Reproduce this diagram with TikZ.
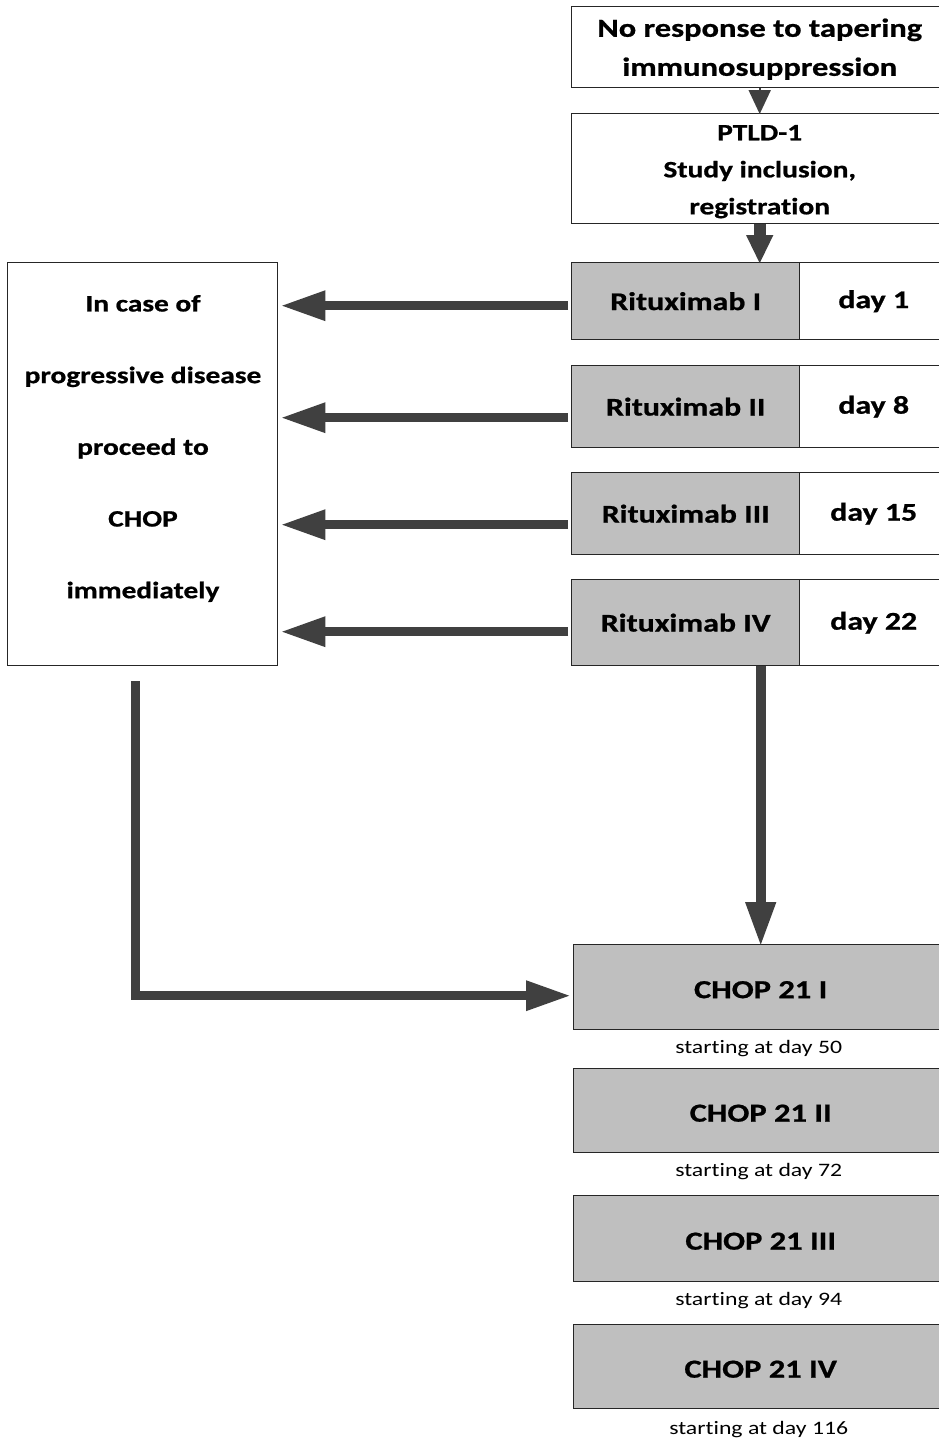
\documentclass[tikz,border=0pt]{standalone}
\usepackage{fontspec}
\setmainfont{Carlito}[FakeStretch=1.25,Ligatures={NoCommon},BoldFeatures={FakeBold=0.8}]
\usetikzlibrary{arrows.meta,calc}
\definecolor{boxgray}{HTML}{BFBFBF}
\definecolor{arr}{HTML}{404040}
\begin{document}
\begin{tikzpicture}[x=1pt,y=-1pt,
  box/.style={draw=black!85,line width=1.4pt,inner sep=0pt,anchor=north west,align=center},
  gbox/.style={box,fill=boxgray},
  txt/.style={inner sep=0pt,align=center},
  bigfont/.style={txt,font=\bfseries\fontsize{26}{39}\selectfont},
  midfont/.style={txt,font=\bfseries\fontsize{23.5}{37}\selectfont},
  rowfont/.style={txt,font=\bfseries\fontsize{25.5}{30}\selectfont},
  lab/.style={font=\fontsize{19}{22}\selectfont,inner sep=0pt},
  bigarrow/.style={draw=arr,line width=9pt,line join=miter,-{Triangle[length=45pt,width=28pt]}},
]
\useasboundingbox (0,0) rectangle (938,1438);
\fill[white] (0,0) rectangle (938,1438);

% top boxes
\node[box,minimum width=376pt,minimum height=81pt] (top) at (571,6) {};
\node[bigfont] (toptext) at ($(top.center)+(0,2)$) {No response to tapering\\immunosuppression};
\node[box,minimum width=376pt,minimum height=110pt] (ptld) at (571,113) {};
\node[midfont] (ptldtext) at ($(ptld.center)+(0,3)$) {PTLD-1\\Study inclusion,\\registration};

% rituximab rows
\node[gbox,rowfont,minimum width=228pt,minimum height=77pt] (r1) at (571,262) {Rituximab I};
\node[box,rowfont,minimum width=148pt,minimum height=77pt] (d1) at (799,262) {day 1};
\node[gbox,rowfont,minimum width=228pt,minimum height=82pt] (r2) at (571,365) {Rituximab II};
\node[box,rowfont,minimum width=148pt,minimum height=82pt] (d2) at (799,365) {day 8};
\node[gbox,rowfont,minimum width=228pt,minimum height=82pt] (r3) at (571,472) {Rituximab III};
\node[box,rowfont,minimum width=148pt,minimum height=82pt] (d3) at (799,472) {day 15};
\node[gbox,rowfont,minimum width=228pt,minimum height=86pt] (r4) at (571,579) {Rituximab IV};
\node[box,rowfont,minimum width=148pt,minimum height=86pt] (d4) at (799,579) {day 22};

% left box
\node[box,minimum width=270pt,minimum height=403pt] (lbox) at (7,262) {};
\node[txt,font=\bfseries\fontsize{23.5}{71.7}\selectfont] (ltext) at (143,448.5)
  {In case of\\progressive disease\\proceed to\\CHOP\\immediately};

% CHOP boxes
\node[gbox,minimum width=374pt,minimum height=85pt] (c1) at (573,944) {};
\node[gbox,minimum width=374pt,minimum height=84pt] (c2) at (573,1068) {};
\node[gbox,minimum width=374pt,minimum height=86pt] (c3) at (573,1195) {};
\node[gbox,minimum width=374pt,minimum height=84pt] (c4) at (573,1324) {};
\node[bigfont] (c1t) at ($(c1.center)+(0,2.5)$) {CHOP 21 I};
\node[bigfont] (c2t) at ($(c2.center)+(0,2.5)$) {CHOP 21 II};
\node[bigfont] (c3t) at ($(c3.center)+(0,2.5)$) {CHOP 21 III};
\node[bigfont] (c4t) at ($(c4.center)+(0,2.5)$) {CHOP 21 IV};

\node[lab] (s1) at ($(c1.south)+(-2,18)$) {starting at day 50};
\node[lab] (s2) at ($(c2.south)+(-2,18)$) {starting at day 72};
\node[lab] (s3) at ($(c3.south)+(-2,18)$) {starting at day 94};
\node[lab] (s4) at ($(c4.south)+(-2,20)$) {starting at day 116};

% arrows
\draw[draw=arr,line width=2pt,-{Triangle[length=24pt,width=22pt]}] (top.south) -- ($(ptld.north)+(0,1)$);
\draw[draw=arr,line width=12pt,-{Triangle[length=29pt,width=25pt]}] (ptld.south) -- ($(ptld.south |- r1.north)+(0,2)$);

\draw[bigarrow] ($(r1.west)+(-3,4.5)$) -- ($(lbox.east |- r1.west)+(2,4.5)$);
\draw[bigarrow] ($(r2.west)+(-3,11)$) -- ($(lbox.east |- r2.west)+(2,11)$);
\draw[bigarrow] ($(r3.west)+(-3,11)$) -- ($(lbox.east |- r3.west)+(2,11)$);
\draw[bigarrow] ($(r4.west)+(-3,9)$) -- ($(lbox.east |- r4.west)+(2,9)$);

\draw[bigarrow,line width=10pt] (r4.south -| c1.north) -- ($(c1.north)+(0,3)$);
\draw[bigarrow] ($(lbox.south)+(-7,15)$) |- ($(c1.west)+(-2,8.5)$);
\end{tikzpicture}
\end{document}
